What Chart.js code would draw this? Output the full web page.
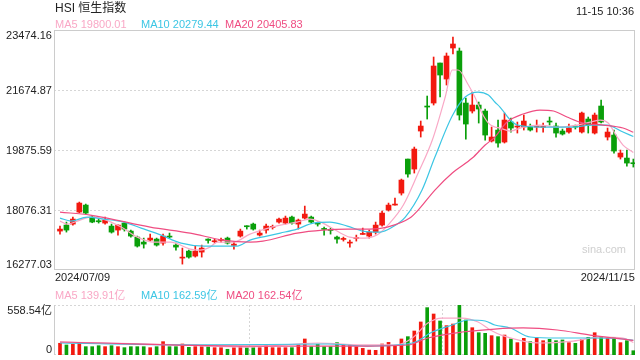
<!DOCTYPE html>
<html>
<head>
<meta charset="utf-8">
<script src="https://cdn.jsdelivr.net/npm/chart.js@4.4.1/dist/chart.umd.min.js"></script>
<style>
  html, body { margin: 0; padding: 0; background: #fff; }
  #wrap { position: relative; width: 640px; height: 360px; overflow: hidden;
          font-family: "Liberation Sans", Arial, "Noto Sans CJK SC", sans-serif; color: #222; }
  #priceBox { position: absolute; left: 0; top: 0; width: 640px; height: 280px; }
  #volBox { position: absolute; left: 0; top: 290px; width: 640px; height: 70px; }
  .lbl { position: absolute; white-space: nowrap; }
</style>
</head>
<body>
<div id="wrap">
  <div id="priceBox"><canvas id="price"></canvas></div>
  <div id="volBox"><canvas id="vol"></canvas></div>
</div>
<script>
// HSI daily candles 2024/07/09 - 2024/11/15
const dates = ['2024/07/09', '2024/11/15'];
const stamp = '11-15 10:36';
const priceTicks = [16277.03, 18076.31, 19875.59, 21674.87, 23474.16];
const volTicks = [0, 558.54];

const opens = [17444, 17624, 17654, 18014, 18224, 17864, 17754, 17684, 17594, 17474,
  17684, 17444, 17264, 17114, 17174, 17204, 17084, 17294, 17024, 16634,
  16844, 16694, 16814, 17204, 17124, 17164, 17234, 17014, 17294, 17594,
  17654, 17324, 17474, 17554, 17714, 17684, 17864, 17654, 17834, 17864,
  17684, 17524, 17494, 17264, 17194, 17084, 17224, 17344, 17294, 17414,
  17624, 18074, 18224, 18584, 19604, 19304, 20444, 21194, 21284, 22484,
  22004, 22934, 22844, 21284, 21044, 21224, 21044, 20144, 20474, 20114,
  20714, 20564, 20564, 20564, 20564, 20554, 20734, 20594, 20444, 20414,
  20594, 20414, 20804, 20384, 21194, 20264, 20324, 19664, 19634, 19494];
const closes = [17504, 17474, 17804, 18284, 17984, 17714, 17724, 17774, 17414, 17624,
  17504, 17294, 16994, 17054, 17234, 17024, 17294, 17264, 16964, 16664,
  16664, 16844, 16934, 17164, 17154, 17194, 17084, 17054, 17444, 17574,
  17504, 17384, 17594, 17584, 17804, 17834, 17684, 17774, 17954, 17714,
  17654, 17494, 17464, 17204, 17214, 17104, 17254, 17364, 17414, 17624,
  17984, 18224, 18254, 18974, 19154, 19904, 20594, 21164, 22394, 22124,
  22694, 23054, 20924, 20654, 21224, 21104, 20324, 20264, 20084, 20774,
  20534, 20594, 20744, 20474, 20594, 20584, 20714, 20384, 20354, 20534,
  20564, 20984, 20624, 20924, 20714, 20414, 19844, 19784, 19484, 19464];
const highs = [17594, 17714, 17864, 18314, 18254, 17884, 17804, 17864, 17654, 17634,
  17714, 17474, 17294, 17234, 17354, 17234, 17354, 17384, 17084, 16934,
  16874, 16994, 17024, 17214, 17204, 17234, 17264, 17114, 17504, 17604,
  17684, 17474, 17654, 17624, 17834, 17894, 17894, 17804, 18194, 17894,
  17714, 17564, 17534, 17294, 17264, 17174, 17324, 17534, 17474, 17714,
  18044, 18284, 18434, 19004, 19604, 19964, 20744, 21494, 22664, 22484,
  22784, 23264, 22934, 21434, 21614, 21314, 21104, 20564, 20774, 20984,
  20834, 20714, 20924, 20654, 20774, 20684, 20864, 20684, 20504, 20654,
  20624, 21014, 20864, 20984, 21374, 20534, 20474, 19874, 19874, 19604];
const lows = [17354, 17414, 17624, 17994, 17954, 17694, 17684, 17654, 17384, 17324,
  17444, 17264, 16964, 16934, 17144, 16994, 17024, 17234, 16874, 16454,
  16634, 16664, 16664, 17084, 17084, 17114, 17054, 16904, 17264, 17504,
  17474, 17294, 17384, 17504, 17684, 17654, 17654, 17504, 17804, 17684,
  17594, 17324, 17354, 17084, 17144, 16964, 17144, 17344, 17234, 17354,
  17594, 18044, 18224, 18524, 19064, 19184, 20264, 20804, 21224, 21464,
  21824, 22754, 20774, 20204, 20984, 20684, 20174, 20114, 19964, 20084,
  20414, 20384, 20474, 20444, 20414, 20414, 20624, 20264, 20324, 20384,
  20504, 20384, 20384, 20354, 20684, 20174, 19784, 19604, 19394, 19364];
// turnover, 亿
const volumes = [131, 112, 120, 131, 93, 93, 104, 93, 104, 93,
  82, 93, 93, 93, 82, 93, 149, 93, 93, 123,
  86, 93, 93, 93, 82, 82, 64, 82, 93, 82,
  82, 82, 100, 82, 82, 82, 82, 112, 179, 93,
  120, 93, 93, 138, 112, 105, 93, 74, 55, 52,
  123, 141, 100, 179, 205, 268, 369, 529, 458, 380,
  328, 346, 558.54, 391, 305, 249, 242, 216, 205, 223,
  179, 138, 186, 149, 194, 160, 175, 160, 168, 138,
  130, 175, 197, 249, 205, 186, 197, 138, 160, 48];

// moving averages (session index, value)
const ma5Idx = [0, 1.1, 3.1, 4.7, 6.7, 9.5, 12, 14.6, 17.2, 20.2, 21.7, 23.3, 24.4, 26.9, 29.5, 31.8, 34.2,
  36.8, 38.8, 40.8, 43, 45, 47.4, 49.2, 51.2, 53.3, 55.6, 57.8, 59.8, 60.9, 61.8, 63.4, 64.4, 65.5,
  66.5, 67.5, 68.3, 69.9, 71.9, 74.5, 77.2, 80.3, 82.3, 83.9, 85.1, 86.5, 87.4, 89];
const ma5Val = [17744, 17654, 17774, 17864, 17804, 17564, 17264, 17114, 17114, 16904, 16874, 16964, 17114,
  17114, 17354, 17504, 17624, 17714, 17804, 17684, 17444, 17264, 17234, 17324, 17684, 18224, 19184,
  20174, 21464, 22274, 22274, 21824, 21464, 20984, 20684, 20564, 20534, 20444, 20564, 20624, 20564,
  20624, 20714, 20774, 20684, 20264, 20024, 19800.01];
const ma10Idx = [0, 1.7, 4.2, 6.8, 9.9, 12.6, 15.7, 18.8, 22.4, 27.5, 29.5, 32.1, 34.2, 36.8, 39.3, 41.9,
  44.6, 47, 49.7, 51.6, 53.6, 56.2, 58.2, 60.9, 62.9, 64.9, 66.5, 67.5, 68.3, 69.9, 71, 74.5, 79.7,
  82.3, 84.9, 87.4, 89];
const ma10Val = [17834, 17744, 17864, 17804, 17714, 17534, 17324, 17084, 16994, 16994, 17174, 17294, 17384,
  17504, 17684, 17714, 17594, 17444, 17414, 17564, 17864, 18674, 19664, 20900, 21464, 21614, 21524,
  21314, 21164, 20774, 20624, 20564, 20564, 20624, 20624, 20414, 20279.44];
const ma20Idx = [0, 4.7, 7.3, 14, 20.2, 25.3, 29.5, 31.5, 36.8, 40.8, 44.6, 48.1, 50.8, 54.3, 55.6, 58.2,
  60.9, 64, 66, 67.5, 69.4, 71.9, 74.5, 76.6, 78.7, 81.2, 84.3, 87.4, 89];
const ma20Val = [18014, 17924, 17834, 17564, 17384, 17174, 17114, 17144, 17384, 17474, 17504, 17504, 17564,
  17834, 18074, 18674, 19184, 19634, 20024, 20264, 20714, 20954, 21074, 21044, 20864, 20684, 20624,
  20534, 20405.83];

const vma5Idx = [0, 18.6, 28.7, 40, 47.7, 52, 54.7, 57.1, 59.3, 62.4, 64.9, 66.8, 68.6, 74.5, 79.7, 83.9, 87.4, 89];
const vma5Val = [145, 112, 89, 134, 112, 112, 190, 357, 413, 413, 369, 279, 220, 134, 156, 201, 190, 139.91];
const vma10Idx = [0, 22.4, 41.5, 47.7, 54.7, 57.8, 60.9, 63.4, 66, 67.5, 69.9, 73, 77.2, 82.3, 87.4, 89];
const vma10Val = [134, 112, 123, 100, 134, 257, 335, 391, 380, 335, 302, 201, 190, 190, 179, 162.59];
const vma20Idx = [0, 28.7, 47.7, 54, 57.1, 62.4, 67.5, 71.9, 77.2, 82.3, 89];
const vma20Val = [145, 100, 100, 112, 190, 257, 290, 302, 279, 223, 162.54];
const volGridIdx = [29.3, 59.3];

const UP = '#f2190f', DOWN = '#0a9f0a';
const C5 = '#f9a8c6', C10 = '#3cc6e4', C20 = '#ef4d82';
const FONT = '"Liberation Sans", Arial, "Noto Sans CJK SC", sans-serif';

const candleColor = opens.map((o, i) => closes[i] >= o ? UP : DOWN);
const xRange = { type: 'linear', min: -0.93, max: 89.26, offset: false, display: false };

function maLine(idx, vals, color) {
  return {
    type: 'line',
    data: idx.map((x, i) => ({ x: x, y: vals[i] })),
    borderColor: color,
    borderWidth: 1.2,
    pointRadius: 0,
    cubicInterpolationMode: 'monotone',
    order: 0
  };
}

const priceFrame = {
  id: 'priceFrame',
  beforeDatasetsDraw(chart) {
    const { ctx, chartArea: a, scales: { y } } = chart;
    ctx.save();
    ctx.lineWidth = 1;
    ctx.strokeStyle = '#d6d6d6';
    ctx.setLineDash([2, 2]);
    priceTicks.slice(1, -1).forEach(t => {
      const py = Math.round(y.getPixelForValue(t)) + 0.5;
      ctx.beginPath(); ctx.moveTo(a.left, py); ctx.lineTo(a.right, py); ctx.stroke();
    });
    ctx.setLineDash([]);
    ctx.strokeStyle = '#cccccc';
    ctx.strokeRect(a.left + 0.5, a.top + 0.5, a.right - a.left - 1, a.bottom - a.top - 1);
    ctx.restore();
  }
};

const volFrame = {
  id: 'volFrame',
  beforeDatasetsDraw(chart) {
    const { ctx, chartArea: a, scales: { x } } = chart;
    ctx.save();
    ctx.lineWidth = 1;
    ctx.strokeStyle = '#d6d6d6';
    ctx.setLineDash([2, 2]);
    [a.top + 0.5, a.bottom - 0.5].forEach(py => {
      ctx.beginPath(); ctx.moveTo(a.left, py); ctx.lineTo(a.right, py); ctx.stroke();
    });
    volGridIdx.forEach(v => {
      const px = Math.round(x.getPixelForValue(v)) + 0.5;
      ctx.beginPath(); ctx.moveTo(px, a.top); ctx.lineTo(px, a.bottom); ctx.stroke();
    });
    ctx.setLineDash([]);
    ctx.strokeStyle = '#cccccc';
    [a.left + 0.5, a.right - 0.5].forEach(px => {
      ctx.beginPath(); ctx.moveTo(px, a.top); ctx.lineTo(px, a.bottom); ctx.stroke();
    });
    ctx.restore();
  }
};

const baseOptions = {
  responsive: true,
  maintainAspectRatio: false,
  animation: false,
  events: [],
  plugins: { legend: { display: false }, tooltip: { enabled: false } }
};

const priceChart = new Chart(document.getElementById('price'), {
  type: 'bar',
  data: {
    datasets: [
      maLine(ma20Idx, ma20Val, C20),
      maLine(ma10Idx, ma10Val, C10),
      maLine(ma5Idx, ma5Val, C5),
      {
        data: lows.map((l, i) => ({ x: i, y: [l, highs[i]] })),
        backgroundColor: candleColor,
        barThickness: 1,
        grouped: false,
        order: 2
      },
      {
        data: opens.map((o, i) => ({ x: i, y: [o, closes[i]] })),
        backgroundColor: candleColor,
        barThickness: 5,
        minBarLength: 1,
        grouped: false,
        order: 1
      }
    ]
  },
  options: Object.assign({}, baseOptions, {
    layout: { padding: { left: 54, right: 5, top: 30, bottom: 10 } },
    scales: {
      x: xRange,
      y: { type: 'linear', min: priceTicks[0], max: priceTicks[priceTicks.length - 1], display: false }
    }
  }),
  plugins: [priceFrame]
});

const volChart = new Chart(document.getElementById('vol'), {
  type: 'bar',
  data: {
    datasets: [
      maLine(vma20Idx, vma20Val, C20),
      maLine(vma10Idx, vma10Val, C10),
      maLine(vma5Idx, vma5Val, C5),
      {
        data: volumes.map((v, i) => ({ x: i, y: v })),
        backgroundColor: candleColor,
        barThickness: 3,
        grouped: false,
        order: 1
      }
    ]
  },
  options: Object.assign({}, baseOptions, {
    layout: { padding: { left: 54, right: 5, top: 15, bottom: 5 } },
    scales: {
      x: xRange,
      y: { type: 'linear', min: volTicks[0], max: volTicks[1], display: false }
    }
  }),
  plugins: [volFrame]
});

// text overlay
const wrap = document.getElementById('wrap');
function putText(text, x, y, opts) {
  const o = Object.assign({ align: 'left', v: 'middle', size: 11, color: '#222' }, opts || {});
  const d = document.createElement('div');
  d.className = 'lbl';
  d.textContent = text;
  d.style.fontSize = o.size + 'px';
  d.style.lineHeight = o.size + 'px';
  d.style.color = o.color;
  if (o.align === 'right') d.style.right = (640 - x) + 'px'; else d.style.left = x + 'px';
  let top = y - o.size / 2;
  if (o.v === 'top') top = y;
  if (o.v === 'bottom') top = y - o.size;
  d.style.top = top + 'px';
  wrap.appendChild(d);
}

putText('HSI 恒生指数', 55, 8, { size: 12 });
putText(stamp, 634, 11, { align: 'right' });
putText('MA5 ' + ma5Val[ma5Val.length - 1].toFixed(2), 55, 24, { color: C5 });
putText('MA10 ' + ma10Val[ma10Val.length - 1].toFixed(2), 141, 24, { color: C10 });
putText('MA20 ' + ma20Val[ma20Val.length - 1].toFixed(2), 225, 24, { color: C20 });

const py = priceChart.scales.y;
const pTop = priceChart.chartArea.top, pBottom = priceChart.chartArea.bottom;
priceTicks.forEach((t, i) => {
  const v = i === priceTicks.length - 1 ? 'top' : (i === 0 ? 'bottom' : 'middle');
  const yy = i === priceTicks.length - 1 ? pTop : (i === 0 ? pBottom : py.getPixelForValue(t));
  putText(t.toFixed(2), 52, yy, { align: 'right', v: v });
});
putText(dates[0], 55, 277);
putText(dates[1], 635, 277, { align: 'right' });
putText('sina.com', 582, 249, { color: '#cfcfcf', size: 11 });

putText('MA5 ' + vma5Val[vma5Val.length - 1].toFixed(2) + '亿', 55, 295, { color: C5 });
putText('MA10 ' + vma10Val[vma10Val.length - 1].toFixed(2) + '亿', 141, 295, { color: C10 });
putText('MA20 ' + vma20Val[vma20Val.length - 1].toFixed(2) + '亿', 226, 295, { color: C20 });

const vTop = 290 + volChart.chartArea.top, vBottom = 290 + volChart.chartArea.bottom;
putText(volTicks[1].toFixed(2) + '亿', 52, vTop, { align: 'right', v: 'top' });
putText(String(volTicks[0]), 52, vBottom, { align: 'right', v: 'bottom' });
</script>
</body>
</html>
